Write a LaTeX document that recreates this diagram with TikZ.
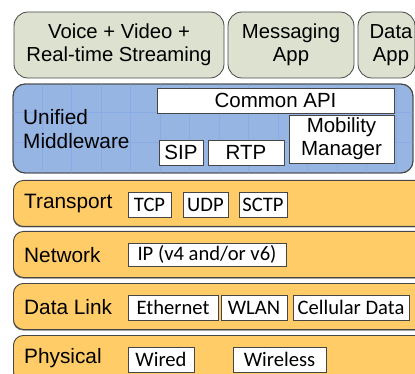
\documentclass[tikz,border=0pt]{standalone}
\usepackage{fontspec}
\setmainfont{Liberation Sans}
\newfontfamily\calib{Carlito}
\definecolor{appfill}{RGB}{221,225,207}
\definecolor{mwfill}{RGB}{150,181,226}
\definecolor{mwgrid}{RGB}{138,172,230}
\definecolor{layerfill}{RGB}{255,204,104}
\definecolor{edge}{RGB}{70,70,70}
\tikzset{
  app/.style={draw=edge, fill=appfill, line width=0.8pt, rounded corners=14pt,
    inner sep=0pt, align=center, font=\fontsize{20.3}{23.5}\selectfont},
  layer/.style={draw=edge, fill=layerfill, line width=0.9pt, rounded corners=10pt,
    inner sep=0pt, anchor=north west},
  lbl/.style={anchor=west, inner sep=0pt, font=\fontsize{20.8}{23.5}\selectfont, align=left},
  white box/.style={draw=edge, fill=white, line width=0.6pt, inner sep=0pt,
    minimum height=25pt, align=center, font=\fontsize{20.5}{23}\selectfont},
  proto/.style={white box, font=\calib\fontsize{20.6}{22}\selectfont}
}
\begin{document}
\begin{tikzpicture}[x=1pt,y=-1pt]
\useasboundingbox (0,0) rectangle (415,374);
\clip (0,0) rectangle (415,374);

% application boxes
\node[app, minimum width=210pt, minimum height=66pt] (voice) at (119,45)
  {Voice + Video +\\Real-time Streaming};
\node[app, minimum width=126pt, minimum height=66pt] (msg) at (291,45)
  {Messaging\\App};
\node[app, minimum width=57pt, minimum height=66pt,
  label={[xshift=4.5pt, align=center, font=\fontsize{20.3}{23.5}\selectfont]center:Data\\App}]
  (data) at (386.5,45) {};

% middleware band with its faint grid
\node[draw=edge, fill=mwfill, line width=0.9pt, rounded corners=12pt,
  minimum width=400pt, minimum height=89pt, inner sep=0pt] (mw) at (213,128.5) {};
\begin{scope}
  \clip[rounded corners=12pt] (13,84) rectangle (413,173);
  \foreach \gx in {42,71.5,101,130.5,160,189.5,219,248.5,278,307.5,337,366.5,396}
    \draw[mwgrid, line width=0.5pt] (\gx,84) -- (\gx,173);
  \foreach \gy in {112,142}
    \draw[mwgrid, line width=0.5pt] (13,\gy) -- (413,\gy);
\end{scope}
\node[draw=edge, line width=0.9pt, rounded corners=12pt,
  minimum width=400pt, minimum height=89pt, inner sep=0pt] at (mw) {};
\node[lbl] (mwlbl) at (23,129) {Unified\\Middleware};
\node[white box, minimum width=237pt] (api) at (275.5,100.5) {Common API};
\node[white box, minimum width=105pt, minimum height=48pt] (mob) at (341.5,139)
  {Mobility\\Manager};
\node[white box, minimum width=44pt] (sip) at (181,152.5) {SIP};
\node[white box, minimum width=76pt] (rtp) at (246,152.5) {RTP};

% protocol layers, each with a dark shadow under its lower edge
\foreach \ty in {180,231,283,335}{
  \fill[black!55, rounded corners=10pt] (13,\ty+1.5) rectangle (430,\ty+47.5);
}
\node[layer, minimum width=417pt, minimum height=46pt] (transport) at (13,180) {};
\node[layer, minimum width=417pt, minimum height=46pt] (network) at (13,231) {};
\node[layer, minimum width=417pt, minimum height=46pt] (datalink) at (13,283) {};
\node[layer, minimum width=417pt, minimum height=46pt] (physical) at (13,335) {};

\node[lbl] (tlbl) at (24,203.5) {Transport};
\node[lbl] (nlbl) at (24,255) {Network};
\node[lbl] (dlbl) at (24,307) {Data Link};
\node[lbl] (plbl) at (24,358.5) {Physical};

\node[proto, minimum width=43pt] (tcp) at (149.5,204.5) {TCP};
\node[proto, minimum width=45pt] (udp) at (205.5,204.5) {UDP};
\node[proto, minimum width=48pt] (sctp) at (263,204.5) {SCTP};

\node[proto, minimum width=158pt, minimum height=23pt] (ip) at (207,254.5) {IP (v4 and/or v6)};

\node[proto, minimum width=90pt] (eth) at (173,307.5) {Ethernet};
\node[proto, minimum width=66pt] (wlan) at (254,307.5) {WLAN};
\node[proto, minimum width=116pt] (cell) at (351,307.5) {Cellular Data};

\node[proto, minimum width=66pt] (wired) at (161,359.5) {Wired};
\node[proto, minimum width=93pt] (wireless) at (279.5,359.5) {Wireless};
\end{tikzpicture}
\end{document}
